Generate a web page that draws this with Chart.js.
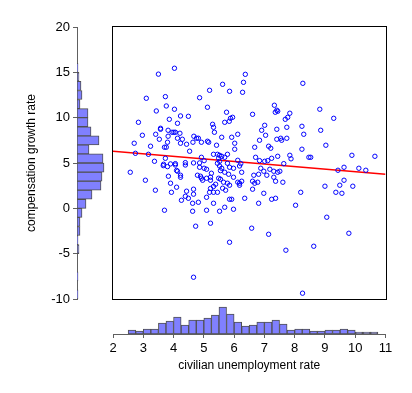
<!DOCTYPE html>
<html><head><meta charset="utf-8">
<script src="https://cdn.jsdelivr.net/npm/chart.js@4/dist/chart.umd.min.js"></script>
<style>
html,body{margin:0;padding:0;background:#fff;}
#wrap{position:relative;width:412px;height:393px;background:#fff;}
canvas{position:absolute;left:0;top:0;}
</style></head><body>
<div id="wrap">
<canvas id="main" width="412" height="393"></canvas>
<canvas id="yhist" width="412" height="393"></canvas>
<canvas id="xhist" width="412" height="393"></canvas>
</div>
<script>
// civilian unemployment rate (x) and compensation growth rate (y)
const unemployment = [
3.50,4.03,6.37,6.31,5.62,5.19,5.85,6.28,8.27,3.10,3.73,4.86,3.43,3.76,4.03,4.49,4.23,3.86,2.84,4.13,
3.57,3.57,3.82,3.95,4.01,4.06,2.97,3.41,4.21,3.53,3.82,4.13,4.29,4.67,4.76,4.82,2.70,3.24,3.80,3.70,
3.76,4.23,4.43,4.64,4.92,4.53,2.74,3.17,3.73,3.37,3.67,3.90,4.06,4.39,4.66,4.92,4.86,5.12,5.75,5.95,
5.88,5.69,5.84,6.61,7.33,7.41,7.36,7.44,7.84,7.77,7.69,5.29,5.32,5.35,7.01,6.91,7.04,7.41,7.74,5.59,
5.92,6.12,5.12,5.16,5.42,6.02,6.02,6.84,7.41,7.54,7.57,7.74,7.14,7.21,6.68,7.44,7.84,5.32,5.45,5.52,
5.59,5.78,5.69,5.49,5.01,6.12,6.71,6.84,7.01,7.11,7.24,7.64,7.88,5.45,5.78,5.52,6.22,8.83,9.29,8.24,
8.86,8.30,9.03,8.24,8.47,8.53,9.89,10.65,2.57,3.07,3.40,3.70,4.73,3.66,3.80,4.06,4.10,4.13,3.83,4.23,
4.23,3.90,4.10,3.93,4.43,4.66,4.66,4.39,4.26,4.49,4.63,4.82,4.63,4.79,4.89,4.92,4.96,4.86,4.39,5.52,
5.59,5.55,5.85,5.98,6.18,6.25,5.25,5.22,5.22,5.09,5.49,5.55,5.39,5.32,5.22,5.82,5.69,5.98,5.65,5.78,
5.85,5.62,5.72,6.12,6.18,6.25,6.18,5.45,5.32,5.19,5.09,5.85,5.92,6.35,6.61,6.68,6.78,6.65,6.81,6.88,
6.98,7.08,7.18,7.31,7.44,7.51,7.31,7.37,7.61,6.61,6.98,7.24,7.37,6.81,5.32,5.69,5.52,5.09,5.98,5.22,
6.58,7.14,8.03,5.01,5.09,9.43,9.63,10.12,10.35,9.63,9.49,9.00,9.92,8.20,9.36,9.56,9.06,9.79,5.85,4.66,
7.71,8.63,8.26
];
const compGrowth = [
14.80,15.45,14.78,13.90,13.68,13.02,12.91,12.80,13.79,12.14,12.32,12.20,10.74,11.29,10.93,10.15,10.19,9.82,9.49,9.38,
8.83,8.72,8.61,8.39,8.39,8.39,8.06,8.17,8.28,7.62,7.95,7.73,7.62,7.95,7.73,7.73,7.18,6.85,7.29,6.74,
6.74,7.18,7.07,7.29,7.29,6.30,6.07,5.96,5.52,5.19,4.86,4.90,4.93,5.04,5.01,5.63,5.01,11.15,10.60,10.04,
9.93,9.49,9.60,10.37,11.37,10.82,10.60,10.71,10.49,10.04,9.82,9.27,8.94,8.39,9.16,8.61,8.06,8.72,8.94,7.84,
7.84,8.17,7.40,7.29,6.96,7.18,6.52,7.51,7.62,7.73,7.51,7.73,6.85,6.63,6.74,5.74,5.85,5.96,5.96,5.85,
5.74,5.96,5.63,5.52,5.26,5.30,5.63,5.26,5.19,5.26,5.52,4.93,5.46,4.97,4.97,5.19,4.93,10.93,9.93,9.05,
8.61,8.17,6.96,6.52,5.63,5.63,5.85,5.74,3.98,3.10,2.00,-0.21,-1.97,4.71,4.60,4.78,4.18,4.09,3.54,3.65,
3.43,2.77,2.33,1.77,1.89,2.11,1.56,1.33,0.89,1.11,0.56,0.67,-0.32,3.65,3.54,3.32,3.10,4.53,4.78,4.67,
4.42,4.16,4.53,4.42,4.67,3.98,3.87,3.43,3.10,3.32,3.32,3.21,2.66,2.41,2.19,3.76,3.98,3.43,2.88,2.77,
2.55,2.22,2.00,2.88,2.77,2.99,2.55,1.77,1.77,1.77,1.22,1.00,1.00,1.11,2.99,2.77,2.88,3.65,3.76,4.42,
4.09,3.65,4.31,4.09,3.98,4.09,3.43,2.99,2.88,2.11,1.66,1.00,1.11,0.56,0.56,0.12,-0.32,-0.21,-0.10,-1.64,
-2.19,-2.86,0.34,4.42,4.31,4.20,4.53,4.42,4.20,3.10,2.55,2.44,2.44,1.77,1.77,1.66,-0.98,-2.75,-3.74,-7.60,
-4.62,-4.18,-9.36
];
// fitted regression line end points
const fitX = [2, 11];
const fitY = [6.3, 3.75];

// marginal histogram of unemployment (bin width 0.25)
const xBinCenters = [2.625,2.875,3.125,3.375,3.625,3.875,4.125,4.375,4.625,4.875,5.125,5.375,5.625,5.875,6.125,6.375,6.625,6.875,7.125,7.375,7.625,7.875,8.125,8.375,8.625,8.875,9.125,9.375,9.625,9.875,10.125,10.375,10.625];
const xBinCounts = [4,3,5,5,11,13,17,9,14,14,16,19,27,20,12,8,9,12,12,14,10,4,5,5,3,3,4,4,5,4,2,2,2];

// marginal histogram of compensation growth (bin width 1)
const yBinCenters = [-9.5,-7.5,-4.5,-3.5,-2.5,-1.5,-0.5,0.5,1.5,2.5,3.5,4.5,5.5,6.5,7.5,8.5,9.5,10.5,11.5,12.5,13.5,14.5,15.5];
const yBinCounts = [1,1,2,1,3,3,5,9,15,24,25,27,26,12,22,14,11,11,3,5,4,2,1];

const xTickValues = [2,3,4,5,6,7,8,9,10,11];
const yTickValues = [-10,-5,0,5,10,15,20];

Chart.defaults.font.family = "'Liberation Sans', Arial, sans-serif";
Chart.defaults.font.size = 13;
Chart.defaults.color = '#000';

const AXIS = '#606060';
const BAR_FILL = '#8080ff';
const BAR_EDGE = '#505050';

new Chart(document.getElementById('main'), {
  type: 'scatter',
  data: { datasets: [
    { data: unemployment.map((x, i) => ({ x: x, y: compGrowth[i] })),
      borderColor: '#0000ff', backgroundColor: 'rgba(0,0,0,0)',
      pointRadius: 2.2, pointHoverRadius: 2.2, borderWidth: 1, pointBorderWidth: 1 },
    { type: 'line', data: fitX.map((x, i) => ({ x: x, y: fitY[i] })),
      borderColor: '#ff0000', borderWidth: 1.5, pointRadius: 0, showLine: true, fill: false }
  ]},
  options: {
    responsive: false, animation: false, events: [],
    layout: { padding: { left: 113, top: 27, right: 26.5, bottom: 94 } },
    plugins: { legend: { display: false }, tooltip: { enabled: false } },
    scales: {
      x: { type: 'linear', display: false, min: 2, max: 11 },
      y: { type: 'linear', display: false, min: -10, max: 20 }
    }
  },
  plugins: [{
    id: 'frame',
    afterDraw(c) {
      const a = c.chartArea, ctx = c.ctx;
      ctx.save();
      ctx.strokeStyle = '#000';
      ctx.lineWidth = 1;
      const x0 = Math.floor(a.left) - 0.5, y0 = Math.floor(a.top) - 0.5;
      const x1 = Math.ceil(a.right) + 0.5, y1 = Math.ceil(a.bottom) + 0.5;
      ctx.strokeRect(x0, y0, x1 - x0, y1 - y0);
      ctx.restore();
    }
  }]
});

new Chart(document.getElementById('yhist'), {
  type: 'bar',
  data: { datasets: [{
    data: yBinCenters.map((c, i) => ({ x: yBinCounts[i], y: c })),
    backgroundColor: BAR_FILL, borderColor: BAR_EDGE, borderWidth: 1,
    barPercentage: 1, categoryPercentage: 1, borderSkipped: false
  }]},
  options: {
    indexAxis: 'y', responsive: false, animation: false, events: [],
    layout: { padding: { left: 0, top: 27, right: 305, bottom: 94 } },
    plugins: { legend: { display: false }, tooltip: { enabled: false } },
    scales: {
      y: { type: 'linear', position: 'left', min: -10, max: 20, offset: false,
        afterFit(s) { s.width = 77; },
        afterBuildTicks(s) { s.ticks = yTickValues.map(v => ({ value: v })); },
        ticks: { color: '#000', padding: 3, font: { size: 13 } },
        grid: { display: true, drawOnChartArea: false, drawTicks: true, tickLength: 4, color: AXIS, offset: false },
        border: { display: true, color: AXIS, width: 1 },
        title: { display: true, text: 'compensation growth rate', color: '#000', font: { size: 12 }, padding: { top: 24, bottom: 0 } }
      },
      x: { type: 'linear', display: false, min: 0, max: 30 }
    }
  }
});

new Chart(document.getElementById('xhist'), {
  type: 'bar',
  data: { datasets: [{
    data: xBinCenters.map((c, i) => ({ x: c, y: xBinCounts[i] })),
    backgroundColor: BAR_FILL, borderColor: BAR_EDGE, borderWidth: 1,
    barPercentage: 1, categoryPercentage: 1, borderSkipped: false
  }]},
  options: {
    responsive: false, animation: false, events: [],
    layout: { padding: { left: 113, top: 304, right: 26.5, bottom: 0 } },
    plugins: { legend: { display: false }, tooltip: { enabled: false } },
    scales: {
      x: { type: 'linear', position: 'bottom', min: 2, max: 11, offset: false,
        afterFit(s) { s.height = 59; },
        afterBuildTicks(s) { s.ticks = xTickValues.map(v => ({ value: v })); },
        ticks: { color: '#000', padding: 3, maxRotation: 0, autoSkip: false, font: { size: 13 } },
        grid: { display: true, drawOnChartArea: false, drawTicks: true, tickLength: 4, color: AXIS, offset: false },
        border: { display: true, color: AXIS, width: 1 },
        title: { display: true, text: 'civilian unemployment rate', color: '#000', font: { size: 12 }, padding: { top: 0, bottom: 20 } }
      },
      y: { type: 'linear', display: false, min: 0, max: 30 }
    }
  }
});
</script>
</body></html>
